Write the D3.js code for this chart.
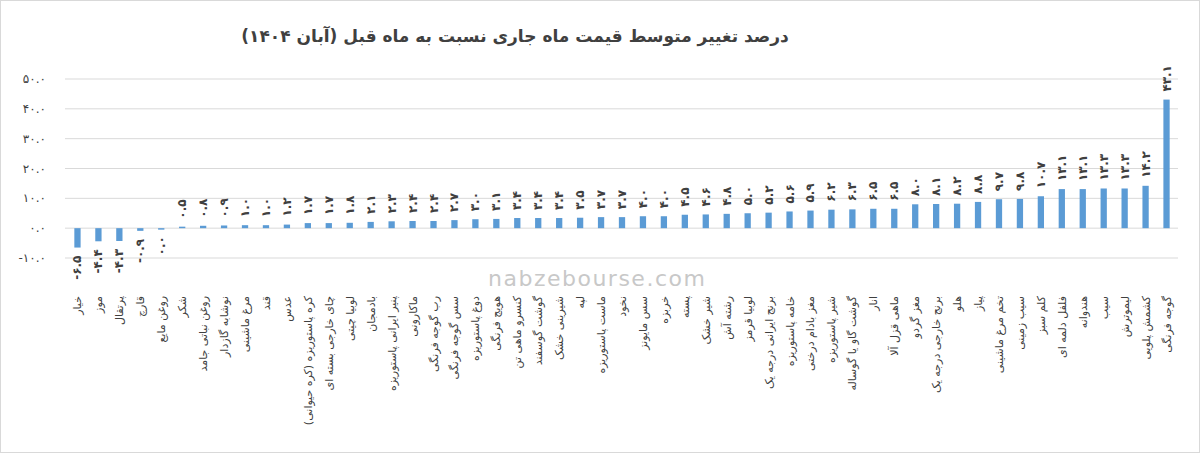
<!DOCTYPE html>
<html><head><meta charset="utf-8">
<script src="https://cdn.jsdelivr.net/npm/d3@7"></script>
<style>body{margin:0;background:#fff}svg{font-family:"DejaVu Sans",sans-serif}</style>
</head><body><svg id="c" width="1200" height="453"></svg>
<script>
const categories=["خیار","موز","پرتقال","قارچ","روغن مایع","شکر","روغن نباتی جامد","نوشابه گازدار","مرغ ماشینی","قند","عدس","کره پاستوریزه (کره حیوانی)","چای خارجی بسته ای","لوبیا چیتی","بادمجان","پنیر ایرانی پاستوریزه","ماکارونی","رب گوجه فرنگی","سس گوجه فرنگی","دوغ پاستوریزه","هویج فرنگی","کنسرو ماهی تن","گوشت گوسفند","شیرینی خشک","لپه","ماست پاستوریزه","نخود","سس مایونز","خربزه","پسته","شیر خشک","رشته آش","لوبیا قرمز","برنج ایرانی درجه یک","خامه پاستوریزه","مغز بادام درختی","شیر پاستوریزه","گوشت گاو یا گوساله","انار","ماهی قزل آلا","مغز گردو","برنج خارجی درجه یک","هلو","پیاز","تخم مرغ ماشینی","سیب زمینی","کلم سبز","فلفل دلمه ای","هندوانه","سیب","لیموترش","کشمش پلویی","گوجه فرنگی"];
const values=[-6.5,-4.4,-4.3,-0.9,0.0,0.5,0.8,0.9,1.0,1.0,1.2,1.7,1.7,1.8,2.1,2.3,2.4,2.4,2.7,3.0,3.1,3.4,3.4,3.4,3.5,3.7,3.7,4.0,4.0,4.5,4.6,4.8,5.0,5.2,5.6,5.9,6.2,6.3,6.5,6.5,8.0,8.1,8.2,8.8,9.7,9.8,10.7,13.1,13.1,13.3,13.3,14.2,43.1];
const yTicks=[-10,0,10,20,30,40,50];
const title="درصد تغییر متوسط قیمت ماه جاری نسبت به ماه قبل (آبان ۱۴۰۴)";
const fa=s=>String(s).replace(/\d/g,d=>"۰۱۲۳۴۵۶۷۸۹"[d]);
const fmt=v=>fa(v.toFixed(1));
const svg=d3.select("#c");
svg.append("rect").attr("x",0.5).attr("y",0.5).attr("width",1199).attr("height",452).attr("fill","none").attr("stroke","#d9d9d9");
const x=d3.scaleBand().domain(categories).range([67,1177]).paddingInner(0.7).paddingOuter(0.35);
const y=d3.scaleLinear().domain([-10,50]).range([258,79]);
svg.append("g").selectAll("line").data(yTicks).join("line").attr("x1",65).attr("x2",1178)
 .attr("y1",d=>y(d)).attr("y2",d=>y(d)).attr("stroke","#d9d9d9");
svg.append("g").selectAll("text").data(yTicks).join("text").attr("x",46).attr("y",d=>y(d)+4)
 .attr("text-anchor","end").attr("font-size",12).attr("fill","#404040").text(d=>(d<0?"-":"")+fmt(Math.abs(d)));
svg.append("text").attr("x",488).attr("y",286).attr("font-size",22).attr("fill","#c8c8c8").attr("letter-spacing",1.5).text("nabzebourse.com");
svg.append("g").selectAll("rect").data(values).join("rect")
 .attr("x",(d,i)=>x(categories[i])).attr("width",x.bandwidth())
 .attr("y",d=>y(Math.max(0,d))).attr("height",d=>Math.max(Math.abs(y(d)-y(0)),1.5)).attr("fill","#5b9bd5");
svg.append("g").selectAll("text").data(values).join("text")
 .attr("transform",(d,i)=>{const cx=x(categories[i])+x.bandwidth()/2+4;const yy=d>0?y(d)-8:y(d)+8;return `translate(${cx},${yy}) rotate(-90)`})
 .attr("text-anchor",d=>d>0?"start":"end").attr("font-size",12).attr("font-weight","bold").attr("fill","#404040")
 .text(d=>(d<0?"-":"")+fmt(Math.abs(d)));
svg.append("g").selectAll("text").data(categories).join("text")
 .attr("transform",d=>`translate(${x(d)+x.bandwidth()/2+4},296) rotate(-90)`)
 .attr("text-anchor","end").attr("font-size",11).attr("fill","#404040").text(d=>d);
svg.append("text").attr("x",515).attr("y",42).attr("text-anchor","middle").attr("font-size",17).attr("font-weight","bold").attr("fill","#404040").text(title);
</script></body></html>
